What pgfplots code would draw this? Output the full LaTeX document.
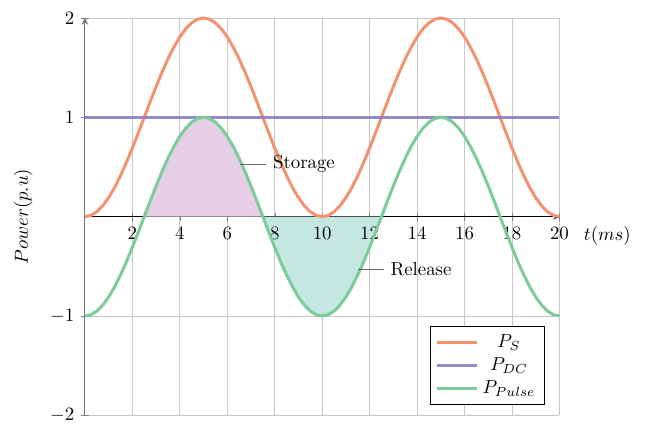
\documentclass[border=0pt]{standalone}
\usepackage{pgfplots}
\pgfplotsset{compat=1.18}
\usepackage{pgfplotstable}
\usepgfplotslibrary{fillbetween}

\definecolor{cS}{HTML}{F4926F}
\definecolor{cDC}{HTML}{8B80C4}
\definecolor{cPulse}{HTML}{7DCB98}
\definecolor{cStore}{HTML}{E6CFE6}
\definecolor{cRel}{HTML}{C5E7E2}

% t, P_S, P_Pulse
\pgfplotstableread{
t ps pulse
0 0 -1
0.25 0.01231 -0.98769
0.5 0.04894 -0.95106
0.75 0.10899 -0.89101
1 0.19098 -0.80902
1.25 0.29289 -0.70711
1.5 0.41221 -0.58779
1.75 0.54601 -0.45399
2 0.69098 -0.30902
2.25 0.84357 -0.15643
2.5 1 0
2.75 1.15643 0.15643
3 1.30902 0.30902
3.25 1.45399 0.45399
3.5 1.58779 0.58779
3.75 1.70711 0.70711
4 1.80902 0.80902
4.25 1.89101 0.89101
4.5 1.95106 0.95106
4.75 1.98769 0.98769
5 2 1
5.25 1.98769 0.98769
5.5 1.95106 0.95106
5.75 1.89101 0.89101
6 1.80902 0.80902
6.25 1.70711 0.70711
6.5 1.58779 0.58779
6.75 1.45399 0.45399
7 1.30902 0.30902
7.25 1.15643 0.15643
7.5 1 0
7.75 0.84357 -0.15643
8 0.69098 -0.30902
8.25 0.54601 -0.45399
8.5 0.41221 -0.58779
8.75 0.29289 -0.70711
9 0.19098 -0.80902
9.25 0.10899 -0.89101
9.5 0.04894 -0.95106
9.75 0.01231 -0.98769
10 0 -1
10.25 0.01231 -0.98769
10.5 0.04894 -0.95106
10.75 0.10899 -0.89101
11 0.19098 -0.80902
11.25 0.29289 -0.70711
11.5 0.41221 -0.58779
11.75 0.54601 -0.45399
12 0.69098 -0.30902
12.25 0.84357 -0.15643
12.5 1 0
12.75 1.15643 0.15643
13 1.30902 0.30902
13.25 1.45399 0.45399
13.5 1.58779 0.58779
13.75 1.70711 0.70711
14 1.80902 0.80902
14.25 1.89101 0.89101
14.5 1.95106 0.95106
14.75 1.98769 0.98769
15 2 1
15.25 1.98769 0.98769
15.5 1.95106 0.95106
15.75 1.89101 0.89101
16 1.80902 0.80902
16.25 1.70711 0.70711
16.5 1.58779 0.58779
16.75 1.45399 0.45399
17 1.30902 0.30902
17.25 1.15643 0.15643
17.5 1 0
17.75 0.84357 -0.15643
18 0.69098 -0.30902
18.25 0.54601 -0.45399
18.5 0.41221 -0.58779
18.75 0.29289 -0.70711
19 0.19098 -0.80902
19.25 0.10899 -0.89101
19.5 0.04894 -0.95106
19.75 0.01231 -0.98769
20 0 -1
}\powerdata

\begin{document}
\begin{tikzpicture}
\begin{axis}[
  scale only axis,
  width=252pt,
  height=211pt,
  axis lines=middle,
  xmin=0, xmax=20,
  ymin=-2, ymax=2,
  xtick={2,4,...,20},
  ytick={-2,-1,1,2},
  grid=major,
  grid style={black!22, line width=0.4pt},
  x axis line style={black, -stealth},
  y axis line style={black!55, line width=0.6pt, -stealth},
  xlabel={$t(ms)$},
  ylabel={$Power(p.u)$},
  xlabel style={at={(axis description cs:1,0.5)}, anchor=west, xshift=9.5pt, yshift=-10pt},
  ylabel style={at={(axis description cs:-0.13,0.5)}, anchor=center, rotate=90},
  legend cell align=center,
  legend style={draw=black, line width=0.5pt, at={(0.97,0.027)}, anchor=south east,
    legend image code/.code={\draw[#1] (0cm,0cm) -- (0.75cm,0cm);}},
  clip=false
]
\addplot[cS, line width=1.6pt] table[x=t, y=ps] {\powerdata};
\addlegendentry{$P_S$}
\addplot[cDC, line width=1.6pt, opacity=0.9] coordinates {(0,1) (20,1)};
\addlegendentry{$P_{DC}$}
\addplot[cPulse, line width=1.6pt, name path=pulse] table[x=t, y=pulse] {\powerdata};
\addlegendentry{$P_{Pulse}$}
\addplot[draw=none, name path=zero, forget plot] coordinates {(0,0) (20,0)};
\addplot[cStore, forget plot] fill between[of=pulse and zero, soft clip={domain=2.5:7.5}];
\addplot[cRel, forget plot] fill between[of=pulse and zero, soft clip={domain=7.5:12.5}];

\draw[black!60, line width=0.4pt] (axis cs:6.55,0.53) -- (axis cs:7.65,0.53)
  node[anchor=west, text=black] {Storage};
\draw[black!60, line width=0.4pt] (axis cs:11.5,-0.53) -- (axis cs:12.6,-0.53)
  node[anchor=west, text=black] {Release};
\end{axis}
\path (current bounding box.east) ++(9pt,0);
\path (current bounding box.west) ++(-4pt,0);
\path (current bounding box.north) ++(0,3pt);
\end{tikzpicture}
\end{document}
